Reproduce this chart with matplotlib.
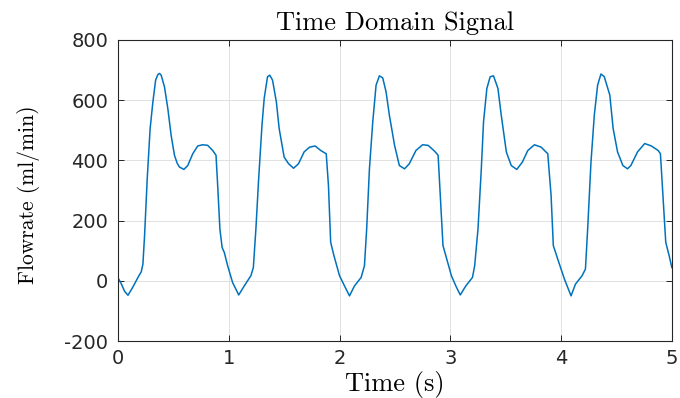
import numpy as np
import matplotlib.pyplot as plt

plt.rcParams["axes.unicode_minus"] = False

# flowrate waveform, 5 beats
time_s = [0.00, 0.03, 0.06, 0.09, 0.12, 0.15, 0.18, 0.21, 0.225, 0.24, 0.264, 0.29, 0.315, 0.34, 0.36,
          0.375, 0.39, 0.42, 0.45, 0.48, 0.51, 0.535, 0.555, 0.595, 0.63, 0.675, 0.72, 0.765, 0.81,
          0.855, 0.885, 0.90, 0.92, 0.94, 0.96, 0.99, 1.035, 1.09, 1.14, 1.20, 1.222, 1.245, 1.27,
          1.30, 1.32, 1.35, 1.37, 1.395, 1.43, 1.455, 1.50, 1.54, 1.585, 1.63, 1.68, 1.73, 1.78,
          1.83, 1.88, 1.90, 1.92, 1.95, 2.00, 2.045, 2.09, 2.135, 2.195, 2.225, 2.245, 2.27, 2.30,
          2.33, 2.36, 2.39, 2.42, 2.45, 2.497, 2.54, 2.587, 2.63, 2.69, 2.75, 2.80, 2.86, 2.89,
          2.91, 2.934, 2.96, 3.01, 3.05, 3.09, 3.14, 3.20, 3.22, 3.25, 3.28, 3.30, 3.33, 3.36,
          3.39, 3.43, 3.46, 3.506, 3.55, 3.60, 3.65, 3.70, 3.76, 3.82, 3.88, 3.91, 3.93, 3.97,
          4.03, 4.09, 4.13, 4.19, 4.22, 4.24, 4.27, 4.30, 4.33, 4.36, 4.39, 4.44, 4.47, 4.51,
          4.558, 4.60, 4.63, 4.69, 4.755, 4.815, 4.876, 4.897, 4.92, 4.945, 4.976, 5.00]
flow = [10, -10, -35, -48, -30, -10, 11, 30, 55, 150, 339, 505, 594, 667, 685,
        689, 683, 644, 572, 483, 417, 390, 378, 370, 383, 422, 448, 452, 450,
        433, 417, 317, 172, 111, 94, 50, -6, -47, -17, 17, 44, 172, 339,
        517, 606, 678, 683, 667, 594, 506, 411, 389, 374, 389, 428, 444, 448,
        433, 422, 317, 128, 83, 17, -17, -50, -17, 11, 50, 172, 372, 528,
        650, 681, 674, 628, 550, 450, 383, 372, 389, 433, 452, 450, 430, 417,
        283, 117, 83, 17, -17, -47, -17, 11, 50, 172, 372, 528, 639, 678,
        681, 639, 550, 428, 383, 370, 394, 433, 452, 444, 422, 283, 117, 72,
        6, -50, -11, 17, 39, 172, 394, 550, 650, 687, 678, 617, 506, 428,
        383, 372, 383, 428, 456, 448, 433, 422, 283, 128, 83, 44]

x_ticks = [0, 1, 2, 3, 4, 5]
y_ticks = [-200, 0, 200, 400, 600, 800]

fig = plt.figure(figsize=(6.8, 3.98), dpi=100)
ax = fig.add_axes([0.1735, 0.1432, 0.8145, 0.7563])

ax.plot(time_s, flow, color="#0072BD", linewidth=1.1)

ax.set_xlim(0, 5)
ax.set_ylim(-200, 800)
ax.set_xticks(x_ticks)
ax.set_yticks(y_ticks)
ax.grid(True, color="#dcdcdc", linewidth=0.6)
ax.set_axisbelow(True)

ax.tick_params(direction="in", top=True, right=True, length=4, width=0.7,
               colors="#262626", labelsize=14)
ax.tick_params(axis="x", pad=6)
ax.tick_params(axis="y", pad=7)
for lab in ax.get_xticklabels() + ax.get_yticklabels():
    lab.set_fontfamily("DejaVu Sans")
for s in ax.spines.values():
    s.set_color("#262626")
    s.set_linewidth(0.8)

ax.set_title("Time Domain Signal", fontfamily="cmr10", fontsize=19, pad=7)
ax.set_xlabel("Time (s)", fontfamily="cmr10", fontsize=19, va="center")
ax.set_ylabel("Flowrate (ml/min)", fontfamily="cmr10", fontsize=15.5, va="center")
ax.xaxis.set_label_coords(0.5, -0.146)
ax.yaxis.set_label_coords(-0.162, 0.485)

fig.savefig("out.png", dpi=100)
